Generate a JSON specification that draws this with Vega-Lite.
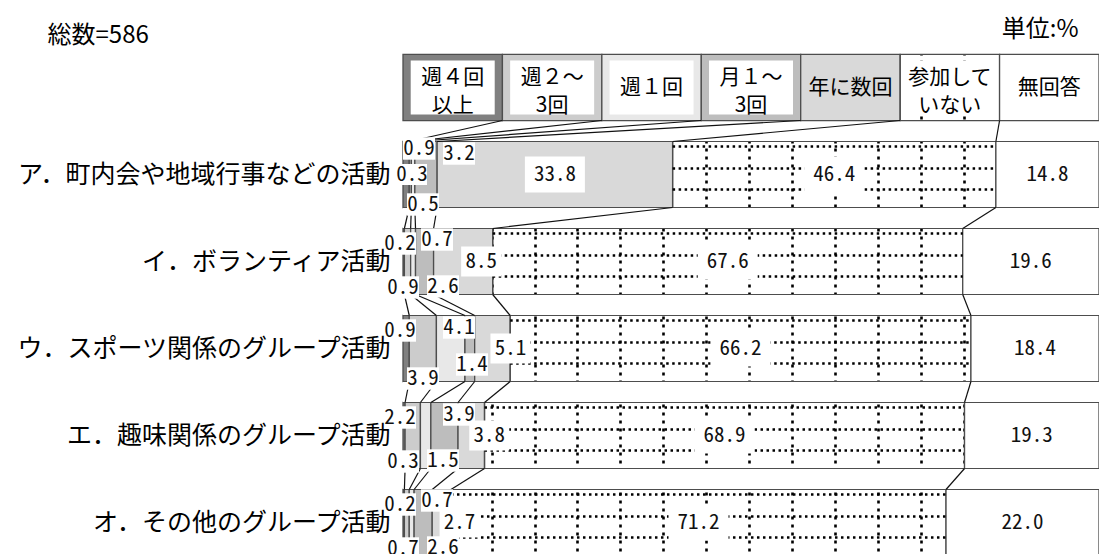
{
  "$schema": "https://vega.github.io/schema/vega-lite/v6.json",
  "autosize": {"type": "none"},
  "width": 696,
  "height": 510,
  "padding": {"left": 403, "top": 44, "right": 0, "bottom": 0},
  "background": "white",
  "config": {"view": {"stroke": null}, "font": "Noto Sans CJK JP"},
  "datasets": {
    "main": [
      {"row": "ア．町内会や地域行事などの活動", "cat": "週4回以上", "value": 0.9},
      {"row": "ア．町内会や地域行事などの活動", "cat": "週2～3回", "value": 0.3},
      {"row": "ア．町内会や地域行事などの活動", "cat": "週1回", "value": 0.5},
      {"row": "ア．町内会や地域行事などの活動", "cat": "月1～3回", "value": 3.2},
      {"row": "ア．町内会や地域行事などの活動", "cat": "年に数回", "value": 33.8},
      {"row": "ア．町内会や地域行事などの活動", "cat": "参加していない", "value": 46.4},
      {"row": "ア．町内会や地域行事などの活動", "cat": "無回答", "value": 14.8},
      {"row": "イ．ボランティア活動", "cat": "週4回以上", "value": 0.2},
      {"row": "イ．ボランティア活動", "cat": "週2～3回", "value": 0.9},
      {"row": "イ．ボランティア活動", "cat": "週1回", "value": 0.7},
      {"row": "イ．ボランティア活動", "cat": "月1～3回", "value": 2.6},
      {"row": "イ．ボランティア活動", "cat": "年に数回", "value": 8.5},
      {"row": "イ．ボランティア活動", "cat": "参加していない", "value": 67.6},
      {"row": "イ．ボランティア活動", "cat": "無回答", "value": 19.6},
      {"row": "ウ．スポーツ関係のグループ活動", "cat": "週4回以上", "value": 0.9},
      {"row": "ウ．スポーツ関係のグループ活動", "cat": "週2～3回", "value": 3.9},
      {"row": "ウ．スポーツ関係のグループ活動", "cat": "週1回", "value": 4.1},
      {"row": "ウ．スポーツ関係のグループ活動", "cat": "月1～3回", "value": 1.4},
      {"row": "ウ．スポーツ関係のグループ活動", "cat": "年に数回", "value": 5.1},
      {"row": "ウ．スポーツ関係のグループ活動", "cat": "参加していない", "value": 66.2},
      {"row": "ウ．スポーツ関係のグループ活動", "cat": "無回答", "value": 18.4},
      {"row": "エ．趣味関係のグループ活動", "cat": "週4回以上", "value": 0.3},
      {"row": "エ．趣味関係のグループ活動", "cat": "週2～3回", "value": 2.2},
      {"row": "エ．趣味関係のグループ活動", "cat": "週1回", "value": 1.5},
      {"row": "エ．趣味関係のグループ活動", "cat": "月1～3回", "value": 3.9},
      {"row": "エ．趣味関係のグループ活動", "cat": "年に数回", "value": 3.8},
      {"row": "エ．趣味関係のグループ活動", "cat": "参加していない", "value": 68.9},
      {"row": "エ．趣味関係のグループ活動", "cat": "無回答", "value": 19.3},
      {"row": "オ．その他のグループ活動", "cat": "週4回以上", "value": 0.2},
      {"row": "オ．その他のグループ活動", "cat": "週2～3回", "value": 0.7},
      {"row": "オ．その他のグループ活動", "cat": "週1回", "value": 0.7},
      {"row": "オ．その他のグループ活動", "cat": "月1～3回", "value": 2.6},
      {"row": "オ．その他のグループ活動", "cat": "年に数回", "value": 2.7},
      {"row": "オ．その他のグループ活動", "cat": "参加していない", "value": 71.2},
      {"row": "オ．その他のグループ活動", "cat": "無回答", "value": 22.0}
    ],
    "legend": [
      {"cat": "週4回以上", "label": "週４回\n以上"},
      {"cat": "週2～3回", "label": "週２～\n3回"},
      {"cat": "週1回", "label": "週１回"},
      {"cat": "月1～3回", "label": "月１～\n3回"},
      {"cat": "年に数回", "label": "年に数回"},
      {"cat": "参加していない", "label": "参加して\nいない"},
      {"cat": "無回答", "label": "無回答"}
    ]
  },
  "data": {"name": "main"},
  "transform": [
    {"window": [{"op": "row_number", "as": "ci"}], "groupby": ["row"]},
    {"stack": "value", "groupby": ["row"], "sort": [{"field": "ci", "order": "ascending"}], "offset": "normalize", "as": ["s", "e"]},
    {"calculate": "(datum.s + datum.e) / 2", "as": "m"},
    {"calculate": "substring(datum.row, 0, 1) + datum.cat", "as": "k"}
  ],
  "layer": [
    {
      "mark": {"type": "bar", "stroke": "#4d4d4d", "strokeWidth": 1.3},
      "encoding": {
        "x": {"field": "s", "type": "quantitative", "scale": {"domain": [0, 1], "nice": false, "zero": false},
          "axis": {"orient": "top", "title": "単位:%", "labels": false, "ticks": false, "domain": false,
            "grid": true, "gridColor": "black", "gridWidth": 2.6, "gridDash": [3, 5], "gridOpacity": 1,
            "values": [0.00402, 0.03484, 0.06566, 0.09648, 0.1273, 0.15812, 0.18894, 0.21976, 0.25057, 0.28139, 0.31221, 0.34303, 0.37385, 0.40467, 0.43549, 0.46631, 0.49713, 0.52795, 0.55876, 0.58958, 0.6204, 0.65122, 0.68204, 0.71286, 0.74368, 0.7745, 0.80532, 0.83614, 0.86695, 0.89777, 0.92859, 0.95941, 0.99023],
            "titleX": 675, "titleY": -8, "titleAlign": "right", "titleBaseline": "alphabetic", "titleAngle": 0,
            "titleFont": "Noto Sans CJK JP", "titleFontSize": 24, "titleFontWeight": "normal", "titleColor": "black"}},
        "x2": {"field": "e"},
        "y": {"field": "row", "type": "nominal",
          "scale": {"domain": ["凡例", "ア．町内会や地域行事などの活動", "イ．ボランティア活動", "ウ．スポーツ関係のグループ活動", "エ．趣味関係のグループ活動", "オ．その他のグループ活動"],
                    "paddingInner": 0.24, "paddingOuter": 0.12, "range": [0, 522]},
          "axis": {"title": "総数=586", "titleAngle": 0, "titleX": -356, "titleY": -2, "titleAlign": "left", "titleBaseline": "alphabetic",
            "titleFont": "Noto Sans CJK JP", "titleFontSize": 24, "titleFontWeight": "normal", "titleColor": "black",
            "labelFont": "Noto Sans CJK JP", "labelFontSize": 25, "labelColor": "black", "labelLimit": 0, "labelPadding": 13,
            "ticks": false, "tickSize": 0, "domain": false, "grid": false, "zindex": 1,
            "labelExpr": "datum.value == '凡例' ? '' : datum.value"}},
        "fill": {"field": "cat", "type": "nominal", "legend": null,
          "scale": {"domain": ["週4回以上", "週2～3回", "週1回", "月1～3回", "年に数回", "参加していない", "無回答"],
                    "range": ["#808080", "#cccccc", "#e8e8e8", "#bdbdbd", "#d9d9d9", "rgba(255,255,255,0)", "#ffffff"]}}
      }
    },
    {
      "transform": [{"filter": "datum.cat == '参加していない'"}],
      "mark": {"type": "rule", "color": "black", "strokeWidth": 2.6, "strokeDash": [2.5, 3.5], "yOffset": -28},
      "encoding": {"x": {"field": "s", "type": "quantitative"}, "x2": {"field": "e"}, "y": {"field": "row", "type": "nominal"}}
    },
    {
      "transform": [{"filter": "datum.cat == '参加していない'"}],
      "mark": {"type": "rule", "color": "black", "strokeWidth": 2.6, "strokeDash": [2.5, 3.5], "yOffset": -6},
      "encoding": {"x": {"field": "s", "type": "quantitative"}, "x2": {"field": "e"}, "y": {"field": "row", "type": "nominal"}}
    },
    {
      "transform": [{"filter": "datum.cat == '参加していない'"}],
      "mark": {"type": "rule", "color": "black", "strokeWidth": 2.6, "strokeDash": [2.5, 3.5], "yOffset": 15},
      "encoding": {"x": {"field": "s", "type": "quantitative"}, "x2": {"field": "e"}, "y": {"field": "row", "type": "nominal"}}
    },
    {
      "transform": [{"filter": "datum.cat == '無回答'"}],
      "mark": {"type": "rule", "color": "white", "strokeWidth": 20, "yOffset": 43.5},
      "encoding": {"x": {"datum": 0, "type": "quantitative"}, "x2": {"datum": 1}, "y": {"field": "row", "type": "nominal"}}
    },
    {
      "transform": [{"filter": "datum.k == 'ア無回答'"}],
      "mark": {"type": "rule", "color": "white", "strokeWidth": 20, "yOffset": -43.5},
      "encoding": {"x": {"datum": 0, "type": "quantitative"}, "x2": {"datum": 1}, "y": {"field": "row", "type": "nominal"}}
    },
    {
      "transform": [{"filter": "datum.k == 'ア無回答'"}],
      "mark": {"type": "rule", "color": "white", "strokeWidth": 10, "yOffset": -125.5},
      "encoding": {"x": {"datum": 0, "type": "quantitative"}, "x2": {"datum": 1}, "y": {"field": "row", "type": "nominal"}}
    },
    {
      "transform": [
        {"filter": "substring(datum.row, 0, 1) == 'ア'"},
        {"joinaggregate": [{"op": "count", "as": "n"}]},
        {"stack": "n", "groupby": ["cn"], "sort": [{"field": "ci", "order": "ascending"}], "offset": "normalize", "as": ["ls", "le"]},
        {"calculate": "(datum.ls + datum.le) / 2", "as": "lm"},
        {"calculate": "'凡例'", "as": "lrow"},
        {"lookup": "cat", "from": {"data": {"name": "legend"}, "key": "cat", "fields": ["label"]}}
      ],
      "layer": [
        {
          "mark": {"type": "bar", "stroke": "#4d4d4d", "strokeWidth": 1.3},
          "encoding": {"x": {"field": "ls", "type": "quantitative"}, "x2": {"field": "le"}, "y": {"field": "lrow", "type": "nominal"}, "fill": {"field": "cat", "type": "nominal", "legend": null}}
        },
        {
          "transform": [{"filter": "datum.cat != '年に数回' && datum.cat != '無回答'"}],
          "mark": {"type": "point", "shape": "M-1,-0.643L1,-0.643L1,0.643L-1,0.643Z", "size": 7056, "filled": true, "fill": "white", "opacity": 1, "strokeOpacity": 0},
          "encoding": {"x": {"field": "lm", "type": "quantitative"}, "y": {"field": "lrow", "type": "nominal"}}
        },
        {
          "transform": [{"filter": "indexof(['週4回以上','週2～3回','月1～3回','参加していない'], datum.cat) >= 0"}],
          "mark": {"type": "text", "lineBreak": "\n", "fontSize": 21, "lineHeight": 28, "font": "Noto Sans CJK JP", "color": "black", "align": "center", "baseline": "middle", "dy": -10},
          "encoding": {"x": {"field": "lm", "type": "quantitative"}, "y": {"field": "lrow", "type": "nominal"}, "text": {"field": "label", "type": "nominal"}}
        },
        {
          "transform": [{"filter": "indexof(['週4回以上','週2～3回','月1～3回','参加していない'], datum.cat) < 0"}],
          "mark": {"type": "text", "fontSize": 21, "font": "Noto Sans CJK JP", "color": "black", "align": "center", "baseline": "middle"},
          "encoding": {"x": {"field": "lm", "type": "quantitative"}, "y": {"field": "lrow", "type": "nominal"}, "text": {"field": "label", "type": "nominal"}}
        },
        {
          "transform": [{"filter": "datum.cat != '無回答'"}],
          "mark": {"type": "rule", "color": "#111111", "strokeWidth": 1.2, "yOffset": 33, "y2Offset": -33},
          "encoding": {"x": {"field": "le", "type": "quantitative"}, "x2": {"field": "e"}, "y": {"field": "lrow", "type": "nominal"}, "y2": {"field": "row"}}
        }
      ]
    },
    {
      "transform": [
        {"window": [{"op": "lead", "field": "e", "as": "ne"}, {"op": "lead", "field": "row", "as": "nrow"}], "groupby": ["cat"], "sort": [{"field": "row", "order": "ascending"}]},
        {"filter": "datum.nrow != null && datum.cat != '無回答'"}
      ],
      "mark": {"type": "rule", "color": "#111111", "strokeWidth": 1.2, "yOffset": 33, "y2Offset": -33},
      "encoding": {
        "x": {"field": "e", "type": "quantitative"},
        "x2": {"field": "ne"},
        "y": {"field": "row", "type": "nominal"},
        "y2": {"field": "nrow"}
      }
    },
    {
      "transform": [{"filter": "(datum.cat == '年に数回' && datum.value >= 10) || datum.cat == '参加していない'"}],
      "mark": {"type": "point", "shape": "M-1,-0.6L1,-0.6L1,0.6L-1,0.6Z", "size": 3600, "filled": true, "fill": "white", "opacity": 1, "strokeOpacity": 0},
      "encoding": {"x": {"field": "m", "type": "quantitative"}, "y": {"field": "row", "type": "nominal"}}
    },
    {
      "transform": [{"filter": "datum.cat == '年に数回' && datum.value < 10"}],
      "mark": {"type": "point", "shape": "M-1,-0.75L1,-0.75L1,0.75L-1,0.75Z", "size": 1600, "filled": true, "fill": "white", "opacity": 1, "strokeOpacity": 0, "xOffset": 18},
      "encoding": {"x": {"field": "m", "type": "quantitative"}, "y": {"field": "row", "type": "nominal"}}
    },
    {
      "transform": [{"filter": "indexof(['イ週4回以上','ウ週4回以上','エ週2～3回','オ週4回以上'], datum.k) >= 0"}],
      "mark": {"type": "point", "shape": "M-1,-0.7L1,-0.7L1,0.7L-1,0.7Z", "size": 1024, "filled": true, "fill": "white", "opacity": 1, "strokeOpacity": 0, "xOffset": -3, "yOffset": -18},
      "encoding": {"x": {"datum": 0, "type": "quantitative"}, "y": {"field": "row", "type": "nominal"}}
    },
    {
      "transform": [{"filter": "indexof(['ア週4回以上'], datum.k) >= 0"}],
      "mark": {"type": "point", "shape": "M-1,-0.7L1,-0.7L1,0.7L-1,0.7Z", "size": 1024, "filled": true, "fill": "white", "opacity": 1, "strokeOpacity": 0, "xOffset": 16, "yOffset": -26},
      "encoding": {"x": {"datum": 0, "type": "quantitative"}, "y": {"field": "row", "type": "nominal"}}
    },
    {
      "transform": [{"filter": "indexof(['ア週2～3回'], datum.k) >= 0"}],
      "mark": {"type": "point", "shape": "M-1,-0.7L1,-0.7L1,0.7L-1,0.7Z", "size": 900, "filled": true, "fill": "white", "opacity": 1, "strokeOpacity": 0, "xOffset": 9, "yOffset": 0},
      "encoding": {"x": {"datum": 0, "type": "quantitative"}, "y": {"field": "row", "type": "nominal"}}
    },
    {
      "transform": [{"filter": "indexof(['ア月1～3回','ウ週1回','エ月1～3回'], datum.k) >= 0"}],
      "mark": {"type": "point", "shape": "M-1,-0.7L1,-0.7L1,0.7L-1,0.7Z", "size": 1024, "filled": true, "fill": "white", "opacity": 1, "strokeOpacity": 0, "xOffset": 56, "yOffset": -21},
      "encoding": {"x": {"datum": 0, "type": "quantitative"}, "y": {"field": "row", "type": "nominal"}}
    },
    {
      "transform": [{"filter": "indexof(['イ週1回','オ週1回'], datum.k) >= 0"}],
      "mark": {"type": "point", "shape": "M-1,-0.7L1,-0.7L1,0.7L-1,0.7Z", "size": 1024, "filled": true, "fill": "white", "opacity": 1, "strokeOpacity": 0, "xOffset": 34, "yOffset": -22},
      "encoding": {"x": {"datum": 0, "type": "quantitative"}, "y": {"field": "row", "type": "nominal"}}
    },
    {
      "transform": [{"filter": "indexof(['イ週2～3回','エ週4回以上','オ週2～3回'], datum.k) >= 0"}],
      "mark": {"type": "point", "shape": "M-1,-0.7L1,-0.7L1,0.7L-1,0.7Z", "size": 1024, "filled": true, "fill": "white", "opacity": 1, "strokeOpacity": 0, "xOffset": 0, "yOffset": 26},
      "encoding": {"x": {"datum": 0, "type": "quantitative"}, "y": {"field": "row", "type": "nominal"}}
    },
    {
      "transform": [{"filter": "indexof(['ア週1回','ウ週2～3回'], datum.k) >= 0"}],
      "mark": {"type": "point", "shape": "M-1,-0.7L1,-0.7L1,0.7L-1,0.7Z", "size": 1024, "filled": true, "fill": "white", "opacity": 1, "strokeOpacity": 0, "xOffset": 20, "yOffset": 30},
      "encoding": {"x": {"datum": 0, "type": "quantitative"}, "y": {"field": "row", "type": "nominal"}}
    },
    {
      "transform": [{"filter": "indexof(['イ月1～3回','エ週1回','オ月1～3回'], datum.k) >= 0"}],
      "mark": {"type": "point", "shape": "M-1,-0.7L1,-0.7L1,0.7L-1,0.7Z", "size": 1024, "filled": true, "fill": "white", "opacity": 1, "strokeOpacity": 0, "xOffset": 40, "yOffset": 25},
      "encoding": {"x": {"datum": 0, "type": "quantitative"}, "y": {"field": "row", "type": "nominal"}}
    },
    {
      "transform": [{"filter": "indexof(['ウ月1～3回'], datum.k) >= 0"}],
      "mark": {"type": "point", "shape": "M-1,-0.7L1,-0.7L1,0.7L-1,0.7Z", "size": 1024, "filled": true, "fill": "white", "opacity": 1, "strokeOpacity": 0, "xOffset": 69, "yOffset": 16},
      "encoding": {"x": {"datum": 0, "type": "quantitative"}, "y": {"field": "row", "type": "nominal"}}
    },
    {
      "transform": [{"filter": "(datum.cat == '年に数回' && datum.value >= 10) || datum.cat == '参加していない' || datum.cat == '無回答'"}],
      "mark": {"type": "text", "font": "Noto Sans Mono CJK JP, Noto Sans CJK JP", "fontSize": 21, "color": "#111111", "align": "center", "baseline": "middle"},
      "encoding": {"x": {"field": "m", "type": "quantitative"}, "y": {"field": "row", "type": "nominal"}, "text": {"field": "value", "type": "quantitative", "format": ".1f"}}
    },
    {
      "transform": [{"filter": "datum.cat == '年に数回' && datum.value < 10"}],
      "mark": {"type": "text", "font": "Noto Sans Mono CJK JP, Noto Sans CJK JP", "fontSize": 21, "color": "#111111", "align": "center", "baseline": "middle", "dx": 18},
      "encoding": {"x": {"field": "m", "type": "quantitative"}, "y": {"field": "row", "type": "nominal"}, "text": {"field": "value", "type": "quantitative", "format": ".1f"}}
    },
    {
      "transform": [{"filter": "indexof(['イ週4回以上','ウ週4回以上','エ週2～3回','オ週4回以上'], datum.k) >= 0"}],
      "mark": {"type": "text", "font": "Noto Sans Mono CJK JP, Noto Sans CJK JP", "fontSize": 21, "color": "#111111", "align": "center", "baseline": "middle", "dx": -3, "dy": -18},
      "encoding": {"x": {"datum": 0, "type": "quantitative"}, "y": {"field": "row", "type": "nominal"}, "text": {"field": "value", "type": "quantitative", "format": ".1f"}}
    },
    {
      "transform": [{"filter": "indexof(['ア週4回以上'], datum.k) >= 0"}],
      "mark": {"type": "text", "font": "Noto Sans Mono CJK JP, Noto Sans CJK JP", "fontSize": 21, "color": "#111111", "align": "center", "baseline": "middle", "dx": 16, "dy": -26},
      "encoding": {"x": {"datum": 0, "type": "quantitative"}, "y": {"field": "row", "type": "nominal"}, "text": {"field": "value", "type": "quantitative", "format": ".1f"}}
    },
    {
      "transform": [{"filter": "indexof(['ア週2～3回'], datum.k) >= 0"}],
      "mark": {"type": "text", "font": "Noto Sans Mono CJK JP, Noto Sans CJK JP", "fontSize": 21, "color": "#111111", "align": "center", "baseline": "middle", "dx": 9, "dy": 0},
      "encoding": {"x": {"datum": 0, "type": "quantitative"}, "y": {"field": "row", "type": "nominal"}, "text": {"field": "value", "type": "quantitative", "format": ".1f"}}
    },
    {
      "transform": [{"filter": "indexof(['ア月1～3回','ウ週1回','エ月1～3回'], datum.k) >= 0"}],
      "mark": {"type": "text", "font": "Noto Sans Mono CJK JP, Noto Sans CJK JP", "fontSize": 21, "color": "#111111", "align": "center", "baseline": "middle", "dx": 56, "dy": -21},
      "encoding": {"x": {"datum": 0, "type": "quantitative"}, "y": {"field": "row", "type": "nominal"}, "text": {"field": "value", "type": "quantitative", "format": ".1f"}}
    },
    {
      "transform": [{"filter": "indexof(['イ週1回','オ週1回'], datum.k) >= 0"}],
      "mark": {"type": "text", "font": "Noto Sans Mono CJK JP, Noto Sans CJK JP", "fontSize": 21, "color": "#111111", "align": "center", "baseline": "middle", "dx": 34, "dy": -22},
      "encoding": {"x": {"datum": 0, "type": "quantitative"}, "y": {"field": "row", "type": "nominal"}, "text": {"field": "value", "type": "quantitative", "format": ".1f"}}
    },
    {
      "transform": [{"filter": "indexof(['イ週2～3回','エ週4回以上','オ週2～3回'], datum.k) >= 0"}],
      "mark": {"type": "text", "font": "Noto Sans Mono CJK JP, Noto Sans CJK JP", "fontSize": 21, "color": "#111111", "align": "center", "baseline": "middle", "dx": 0, "dy": 26},
      "encoding": {"x": {"datum": 0, "type": "quantitative"}, "y": {"field": "row", "type": "nominal"}, "text": {"field": "value", "type": "quantitative", "format": ".1f"}}
    },
    {
      "transform": [{"filter": "indexof(['ア週1回','ウ週2～3回'], datum.k) >= 0"}],
      "mark": {"type": "text", "font": "Noto Sans Mono CJK JP, Noto Sans CJK JP", "fontSize": 21, "color": "#111111", "align": "center", "baseline": "middle", "dx": 20, "dy": 30},
      "encoding": {"x": {"datum": 0, "type": "quantitative"}, "y": {"field": "row", "type": "nominal"}, "text": {"field": "value", "type": "quantitative", "format": ".1f"}}
    },
    {
      "transform": [{"filter": "indexof(['イ月1～3回','エ週1回','オ月1～3回'], datum.k) >= 0"}],
      "mark": {"type": "text", "font": "Noto Sans Mono CJK JP, Noto Sans CJK JP", "fontSize": 21, "color": "#111111", "align": "center", "baseline": "middle", "dx": 40, "dy": 25},
      "encoding": {"x": {"datum": 0, "type": "quantitative"}, "y": {"field": "row", "type": "nominal"}, "text": {"field": "value", "type": "quantitative", "format": ".1f"}}
    },
    {
      "transform": [{"filter": "indexof(['ウ月1～3回'], datum.k) >= 0"}],
      "mark": {"type": "text", "font": "Noto Sans Mono CJK JP, Noto Sans CJK JP", "fontSize": 21, "color": "#111111", "align": "center", "baseline": "middle", "dx": 69, "dy": 16},
      "encoding": {"x": {"datum": 0, "type": "quantitative"}, "y": {"field": "row", "type": "nominal"}, "text": {"field": "value", "type": "quantitative", "format": ".1f"}}
    }
  ]
}
